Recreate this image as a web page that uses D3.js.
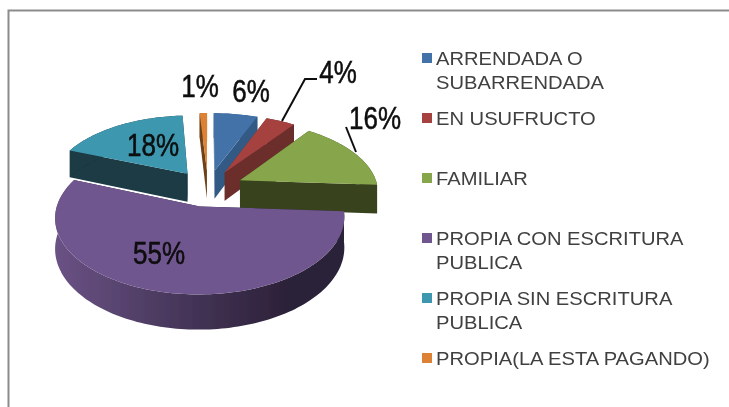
<!DOCTYPE html>
<html><head><meta charset="utf-8">
<script src="https://cdnjs.cloudflare.com/ajax/libs/d3/7.8.5/d3.min.js"></script>
<style>html,body{margin:0;padding:0;background:#fff}svg{display:block}text{font-family:"Liberation Sans",Arial,sans-serif}</style>
</head><body><svg id="c" width="729" height="407"></svg>
<script>
const categories = ["ARRENDADA O|SUBARRENDADA","EN USUFRUCTO","FAMILIAR","PROPIA CON ESCRITURA|PUBLICA","PROPIA SIN ESCRITURA|PUBLICA","PROPIA(LA ESTA PAGANDO)"];
const values = [6,4,16,55,18,1];
const valueLabels = ["6%","4%","16%","55%","18%","1%"];
const topColors = ["#4272a8","#a54340","#87a54b","#70578e","#3e97ae","#dd8236"];
const wallColors = ["#315a85","#6c2d2b","#38431f","#2a2038","#1a3a45","#6e4218"];

// layout, separate from the data
const cfg = {cx:208, cy:188, rx:138, ry:70, p:0.14, depth:29, explode:0.26};
const labelPos = [[251,91],[338,72],[375,118],[159,253],[153,145],[200,86]];
const leaders = {1:[[317,79],[305,79],[282,121]], 2:[[346,127],[356,152]]};
const drawOrder = [5,0,1,4,2,3];

const svg = d3.select("#c");
const defs = svg.append("defs");
defs.append("filter").attr("id","soft").append("feGaussianBlur").attr("stdDeviation",0.45);
const g0 = defs.append("linearGradient").attr("id","rim").attr("gradientUnits","userSpaceOnUse")
  .attr("x1",55).attr("x2",345).attr("y1",0).attr("y2",0);
[[0,"#6a5285"],[0.45,"#453558"],[0.8,"#2c2139"],[1,"#2a2038"]].forEach(s=>g0.append("stop").attr("offset",s[0]).attr("stop-color",s[1]));

// frame
svg.append("path").attr("d","M8.5,407V10.5H729").attr("fill","none").attr("stroke","#8c8c8c").attr("stroke-width",2);

const arcs = d3.pie().sort(null).startAngle(0).endAngle(2*Math.PI)(values);
const sx = d3.scaleLinear().domain([0,1]).range([cfg.cx,cfg.cx+cfg.rx]);
const sy = d3.scaleLinear().domain([0,1]).range([cfg.cy,cfg.cy+cfg.ry]);
// perspective projection of a disc point; h = extrusion depth
function proj(u,v,h){const s=1/(1-cfg.p*v);return [sx(u*s), sy(v*s)+h*s];}
const line = d3.line();
const chart = svg.append("g").attr("filter","url(#soft)");

drawOrder.forEach(i=>{
  const a=arcs[i], mid=(a.startAngle+a.endAngle)/2;
  const ou=cfg.explode*Math.sin(mid), ov=-cfg.explode*Math.cos(mid);
  const steps=d3.range(0,Math.max(3,Math.ceil((a.endAngle-a.startAngle)*40))+1);
  const n=steps[steps.length-1];
  const ang=steps.map(k=>a.startAngle+(a.endAngle-a.startAngle)*k/n);
  const rimPts=h=>ang.map(t=>proj(ou+Math.sin(t),ov-Math.cos(t),h));
  const apex=h=>proj(ou,ov,h);
  const rimT=rimPts(0), rimB=rimPts(cfg.depth);
  const wall=i===3?"url(#rim)":wallColors[i];
  // radial walls
  chart.append("path").attr("d",line([apex(0),rimT[0],rimB[0],apex(cfg.depth)])+"Z").attr("fill",wallColors[i]);
  chart.append("path").attr("d",line([apex(0),rimT[n],rimB[n],apex(cfg.depth)])+"Z").attr("fill",wallColors[i]);
  // outer wall
  chart.append("path").attr("d",line(rimT.concat(rimB.slice().reverse()))+"Z").attr("fill",wall);
  // top face
  chart.append("path").attr("d",line([apex(0)].concat(rimT))+"Z").attr("fill",topColors[i]);
});

// leader lines and value labels
Object.values(leaders).forEach(p=>chart.append("path").attr("d",line(p)).attr("fill","none").attr("stroke","#111").attr("stroke-width",2));
const txt = svg.append("g").attr("filter","url(#soft)");
txt.selectAll("text.v").data(valueLabels).join("text").attr("class","v")
  .attr("transform",(d,i)=>`translate(${labelPos[i][0]},${labelPos[i][1]}) scale(1,1.22)`)
  .attr("text-anchor","middle").attr("dominant-baseline","central")
  .attr("font-size",26).attr("stroke","#0a0a0a").attr("stroke-width",0.4)
  .attr("fill","#0a0a0a").text(d=>d);

// legend
const ly = d3.scalePoint().domain(d3.range(categories.length)).range([58,358]);
const leg = txt.selectAll("g.l").data(categories).join("g").attr("class","l");
leg.append("rect").attr("x",422).attr("y",(d,i)=>ly(i)-5).attr("width",10).attr("height",10).attr("fill",(d,i)=>topColors[i]);
leg.each(function(d,i){
  const parts=d.split("|");
  const base=ly(i)+7;
  parts.forEach((t,k)=>d3.select(this).append("text")
    .attr("transform",`translate(436,${base+k*24}) scale(1.09,1)`)
    .attr("font-size",18.5).attr("fill","#404040").text(t));
});
</script></body></html>
